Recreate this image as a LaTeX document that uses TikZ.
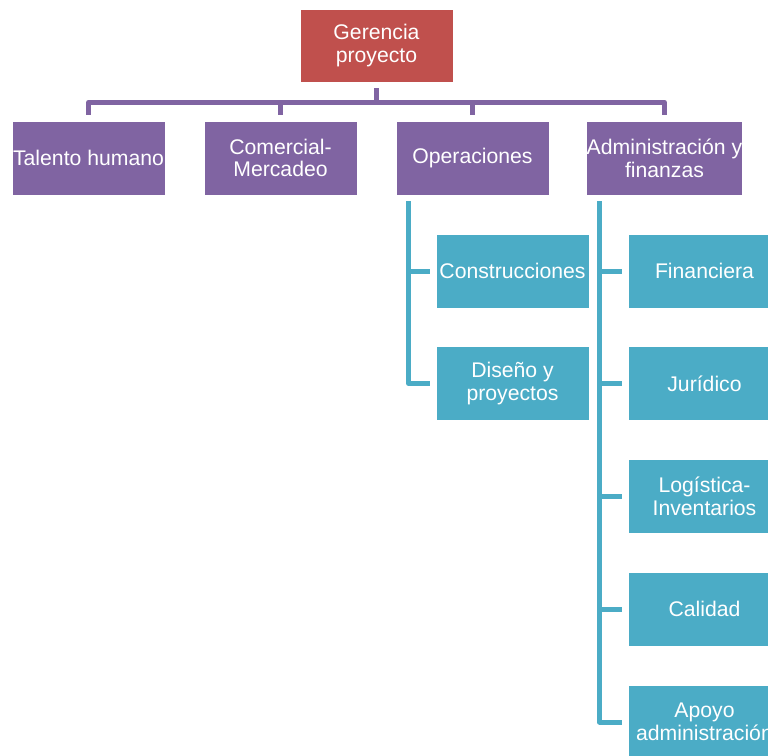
\documentclass[tikz,border=0pt]{standalone}
\usepackage{fontspec}
\setmainfont{Liberation Sans}
\usetikzlibrary{calc}
\definecolor{cred}{HTML}{C0504D}
\definecolor{cpurple}{HTML}{8064A2}
\definecolor{cteal}{HTML}{4BACC6}
\tikzset{
  box/.style={draw=white, line width=0.8pt, minimum width=153pt, minimum height=74pt,
    inner sep=0pt, align=center, text=white,
    font=\fontsize{21.2}{22.8}\selectfont},
  redbox/.style={box, fill=cred, minimum height=73pt},
  purplebox/.style={box, fill=cpurple},
  tealbox/.style={box, fill=cteal},
  pline/.style={draw=cpurple, line width=5pt, line join=round},
  tline/.style={draw=cteal, line width=5pt, line join=round},
}
\begin{document}
\begin{tikzpicture}[x=1pt, y=-1pt]
\useasboundingbox (0,0) rectangle (768,755);
\clip (0,0) rectangle (768,755);
% top
\node[redbox] (ger) at (376.5,45.5) {Gerencia\\proyecto};
% level 1
\node[purplebox] (tal) at (88.5,158) {Talento humano};
\node[purplebox] (com) at (280.5,158) {Comercial-\\Mercadeo};
\node[purplebox] (ope) at (472.5,158) {Operaciones};
\node[purplebox] (adm) at (664.5,158) {Administración y\\finanzas};
% operaciones children
\node[tealbox] (con) at (512.5,271) {Construcciones};
\node[tealbox] (dis) at (512.5,383.5) {Diseño y\\proyectos};
% administracion children
\node[tealbox] (fin) at (704.5,271) {Financiera};
\node[tealbox] (jur) at (704.5,383.5) {Jurídico};
\node[tealbox] (log) at (704.5,496) {Logística-\\Inventarios};
\node[tealbox] (cal) at (704.5,609) {Calidad};
\node[tealbox] (apo) at (704.5,722) {Apoyo\\administración};
% bus from the top box
\draw[pline, shorten <=6pt] (ger.south) -- ($(ger.south)+(0,20)$) coordinate (bus);
\foreach \n in {tal,com,ope,adm}{
  \draw[pline, shorten >=6pt] (bus) -| (\n.north);
}
% operaciones branch
\coordinate (opetop) at ($(ope.south west)+(13,6)$);
\foreach \n in {con,dis}{
  \draw[tline, shorten >=6pt] (opetop) |- (\n.west);
}
% administracion branch
\coordinate (admtop) at ($(adm.south west)+(13,6)$);
\foreach \n in {fin,jur,log,cal,apo}{
  \draw[tline, shorten >=6pt] (admtop) |- (\n.west);
}
\end{tikzpicture}
\end{document}
